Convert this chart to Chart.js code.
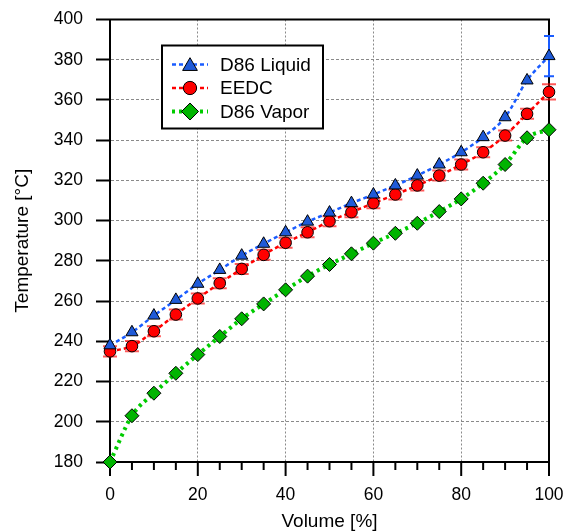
<!DOCTYPE html>
<html>
<head>
<meta charset="utf-8">
<script src="https://cdn.jsdelivr.net/npm/chart.js@4.4.1/dist/chart.umd.min.js"></script>
<style>
  body { margin: 0; background: #fff; }
  #wrap { width: 568px; height: 532px; }
</style>
</head>
<body>
<div id="wrap"><canvas id="myChart" width="568" height="532"></canvas></div>
<script>
//------------------data---------------------
const volume = [0, 5, 10, 15, 20, 25, 30, 35, 40, 45, 50, 55, 60, 65, 70, 75, 80, 85, 90, 95, 100];
const d86Liquid = [238, 244.5, 252.8, 260.6, 268.6, 275.5, 282.6, 288.5, 294.2, 299.5, 304, 308.7, 313, 317.5, 322.4, 327.9, 334, 341.5, 351.4, 369.7, 381.8];
const eedc = [235, 237.6, 245, 253.3, 261.3, 268.9, 276, 283, 289, 294.2, 299.7, 304.2, 308.7, 313, 317.5, 322.4, 327.9, 334, 342.3, 353.1, 364];
const d86Vapor = [180, 203, 214.2, 224.1, 233.4, 242.4, 251.2, 258.6, 265.6, 272.4, 278.2, 283.5, 288.8, 293.7, 298.7, 304.5, 310.8, 318.6, 327.9, 341.2, 345.2];
const d86LiquidErr = [0, 0, 0, 0, 0, 0, 0, 0, 0, 0, 0, 0, 0, 0, 0, 0, 0, 0, 0, 0, 10];
const eedcErr = [2.5, 2.5, 2.5, 2.5, 2.5, 2.5, 2.5, 2.5, 2.5, 2.5, 2.5, 2.5, 2.5, 2.5, 2.5, 2.5, 2.5, 2.5, 2.5, 2.5, 3.8];
const xMajorTicks = [0, 20, 40, 60, 80, 100];
const xMinorTicks = [5, 10, 15, 25, 30, 35, 45, 50, 55, 65, 70, 75, 85, 90, 95];
const yTicks = [180, 200, 220, 240, 260, 280, 300, 320, 340, 360, 380, 400];
const seriesNames = ['D86 Liquid', 'EEDC', 'D86 Vapor'];

const FONT = 'Liberation Sans, Arial, sans-serif';

function toPoints(values) {
  return volume.map((v, i) => ({ x: v, y: values[i] }));
}

//------------------plugins---------------------
// frame, x ticks and error bars under the markers
const framePlugin = {
  id: 'frame',
  beforeDatasetsDraw(chart) {
    const ctx = chart.ctx;
    const area = chart.chartArea;
    const xScale = chart.scales.x;
    const yScale = chart.scales.y;

    ctx.save();
    ctx.strokeStyle = '#000';
    ctx.lineWidth = 2;
    ctx.strokeRect(area.left, area.top, area.right - area.left, area.bottom - area.top);

    xMajorTicks.concat(xMinorTicks).forEach(v => {
      const px = xScale.getPixelForValue(v);
      const len = xMajorTicks.includes(v) ? 14 : 8;
      ctx.beginPath();
      ctx.moveTo(px, area.bottom);
      ctx.lineTo(px, area.bottom + len);
      ctx.stroke();
    });

    // error bars
    const bars = [
      { values: d86Liquid, err: d86LiquidErr, color: '#1a5cff', cap: 5 },
      { values: eedc, err: eedcErr, color: 'rgba(255,0,0,0.65)', cap: 7 }
    ];
    bars.forEach(b => {
      ctx.strokeStyle = b.color;
      ctx.lineWidth = 2;
      volume.forEach((v, i) => {
        if (!b.err[i]) return;
        const px = xScale.getPixelForValue(v);
        const top = yScale.getPixelForValue(b.values[i] + b.err[i]);
        const bot = yScale.getPixelForValue(b.values[i] - b.err[i]);
        ctx.beginPath();
        ctx.moveTo(px, top);
        ctx.lineTo(px, bot);
        ctx.moveTo(px - b.cap, top);
        ctx.lineTo(px + b.cap, top);
        ctx.moveTo(px - b.cap, bot);
        ctx.lineTo(px + b.cap, bot);
        ctx.stroke();
      });
    });
    ctx.restore();
  }
};

function drawMarker(ctx, style, x, y, r, fill) {
  ctx.beginPath();
  if (style === 'triangle') {
    for (let k = 0; k < 3; k++) {
      const a = -Math.PI / 2 + k * 2 * Math.PI / 3;
      const px = x + Math.cos(a) * r;
      const py = y + Math.sin(a) * r + r * 0.2;
      if (k === 0) ctx.moveTo(px, py); else ctx.lineTo(px, py);
    }
    ctx.closePath();
  } else if (style === 'circle') {
    ctx.arc(x, y, r * 0.78, 0, Math.PI * 2);
  } else {
    ctx.moveTo(x, y - r);
    ctx.lineTo(x + r, y);
    ctx.lineTo(x, y + r);
    ctx.lineTo(x - r, y);
    ctx.closePath();
  }
  ctx.fillStyle = fill;
  ctx.fill();
  ctx.strokeStyle = '#000';
  ctx.lineWidth = 1;
  ctx.stroke();
}

// legend box inside the plot
const legendBoxPlugin = {
  id: 'legendBox',
  afterDraw(chart) {
    const ctx = chart.ctx;
    const area = chart.chartArea;
    const left = area.left + 52;
    const top = area.top + 26;
    const w = 161;
    const h = 83;

    ctx.save();
    ctx.fillStyle = '#fff';
    ctx.fillRect(left, top, w, h);
    ctx.strokeStyle = '#000';
    ctx.lineWidth = 2;
    ctx.strokeRect(left, top, w, h);

    chart.data.datasets.forEach((ds, i) => {
      const cy = top + 19 + i * 23.5;
      ctx.strokeStyle = ds.borderColor;
      ctx.lineWidth = ds.borderWidth;
      ctx.setLineDash(ds.borderDash);
      ctx.beginPath();
      ctx.moveTo(left + 10, cy);
      ctx.lineTo(left + 46, cy);
      ctx.stroke();
      ctx.setLineDash([]);
      drawMarker(ctx, ds.pointStyle, left + 28, cy, 8.5, ds.pointBackgroundColor);

      ctx.fillStyle = '#000';
      ctx.font = '19px ' + FONT;
      ctx.textBaseline = 'middle';
      ctx.textAlign = 'left';
      ctx.fillText(seriesNames[i], left + 58, cy + 1);
    });
    ctx.restore();
  }
};

//------------------chart---------------------
function createChart() {
  const myChart = document.getElementById('myChart').getContext('2d');

  new Chart(myChart, {
    type: 'line',
    data: {
      datasets: [{
        label: seriesNames[0],
        data: toPoints(d86Liquid),
        borderColor: '#1a5cff',
        borderWidth: 2.5,
        borderDash: [4, 3],
        pointStyle: 'triangle',
        pointRadius: 7,
        pointBackgroundColor: '#1f5ad8',
        pointBorderColor: '#000',
        pointBorderWidth: 1,
        cubicInterpolationMode: 'monotone',
        clip: false
      }, {
        label: seriesNames[1],
        data: toPoints(eedc),
        borderColor: '#ff0000',
        borderWidth: 2.5,
        borderDash: [4, 3],
        pointStyle: 'circle',
        pointRadius: 5.8,
        pointBackgroundColor: '#ff0000',
        pointBorderColor: '#000',
        pointBorderWidth: 1,
        cubicInterpolationMode: 'monotone',
        clip: false
      }, {
        label: seriesNames[2],
        data: toPoints(d86Vapor),
        borderColor: '#00cc00',
        borderWidth: 4,
        borderDash: [3, 4],
        pointStyle: 'rectRot',
        pointRadius: 7,
        pointBackgroundColor: '#00b400',
        pointBorderColor: '#000',
        pointBorderWidth: 1,
        cubicInterpolationMode: 'monotone',
        clip: false
      }]
    },
    options: {
      responsive: false,
      animation: false,
      layout: { padding: { left: 0, top: 19.5, right: 19, bottom: 0 } },
      plugins: {
        legend: { display: false },
        tooltip: { enabled: false }
      },
      scales: {
        x: {
          type: 'linear',
          min: 0,
          max: 100,
          afterFit: scale => {
            scale.height = 70;
            scale.paddingLeft = 0;
            scale.paddingRight = 0;
          },
          afterBuildTicks: scale => {
            scale.ticks = xMajorTicks.concat(xMinorTicks).sort((a, b) => a - b).map(v => ({ value: v }));
          },
          ticks: {
            autoSkip: false,
            maxRotation: 0,
            padding: 9,
            color: '#000',
            font: { family: FONT, size: 17.5 },
            callback: v => (xMajorTicks.includes(v) ? v : '')
          },
          grid: {
            color: ctx => {
              const v = ctx.tick ? ctx.tick.value : 0;
              return (v % 20 === 0 && v !== 0 && v !== 100) ? '#8a8a8a' : 'rgba(0,0,0,0)';
            },
            lineWidth: 1,
            tickColor: 'rgba(0,0,0,0)',
            tickLength: 14
          },
          border: { color: '#000', width: 2, dash: [2, 2] },
          title: {
            display: true,
            text: 'Volume [%]',
            color: '#000',
            font: { family: FONT, size: 19, lineHeight: 1 },
            padding: { top: 0, bottom: 1 }
          }
        },
        y: {
          min: 180,
          max: 400,
          afterFit: scale => {
            scale.width = 110;
            scale.paddingTop = 0;
            scale.paddingBottom = 0;
          },
          afterBuildTicks: scale => {
            scale.ticks = yTicks.map(v => ({ value: v }));
          },
          ticks: {
            padding: 13,
            color: '#000',
            font: { family: FONT, size: 17.5 }
          },
          grid: {
            color: ctx => {
              const v = ctx.tick ? ctx.tick.value : 0;
              return (v === 180 || v === 400) ? 'rgba(0,0,0,0)' : '#8a8a8a';
            },
            lineWidth: 1,
            tickColor: '#000',
            tickWidth: 2,
            tickLength: 14
          },
          border: { color: '#000', width: 2, dash: [3, 2] },
          title: {
            display: true,
            text: 'Temperature [°C]',
            color: '#000',
            font: { family: FONT, size: 19, lineHeight: 1 },
            padding: { top: 13, bottom: 0 }
          }
        }
      }
    },
    plugins: [framePlugin, legendBoxPlugin]
  });
}

createChart();
</script>
</body>
</html>
